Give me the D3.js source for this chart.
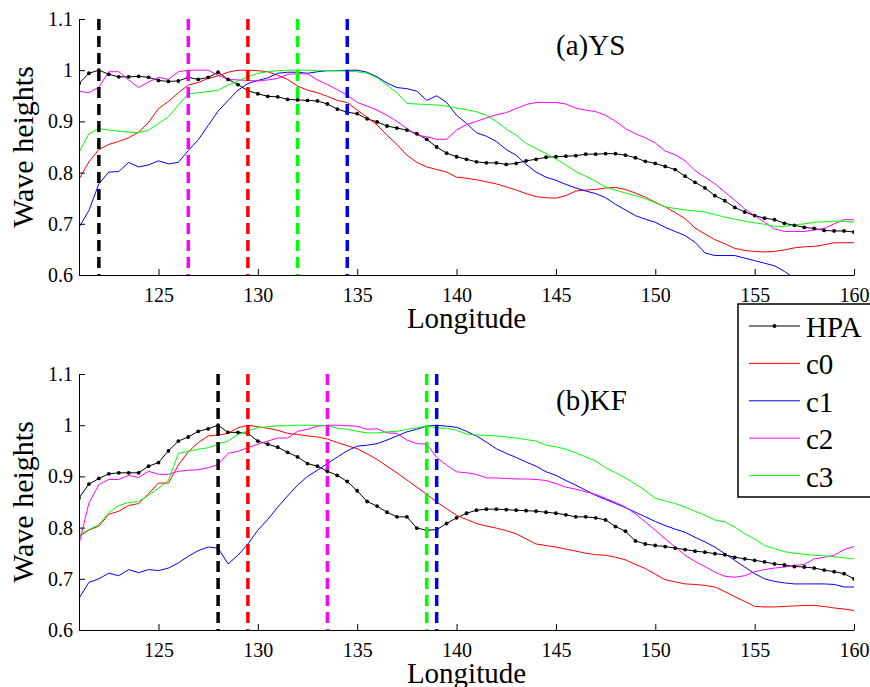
<!DOCTYPE html>
<html>
<head>
<meta charset="utf-8">
<script src="https://cdnjs.cloudflare.com/ajax/libs/d3/7.8.5/d3.min.js"></script>
<style>
  body { margin: 0; background: #fff; }
  svg { display: block; font-family: "Liberation Serif", "Times New Roman", Times, "DejaVu Serif", serif; }
</style>
</head>
<body>
<div id="chart"></div>
<script>
// longitude grid, 0.5 deg from 121 to 160 (79 points)
const lons = d3.range(121, 160.001, 0.5);

// (a) YS
const ysHPA = [
  .974, .994, 1.0, .992, .987, .987, .988, .986, .980, .978,
  .979, .986, .982, .986, .996, .982, .972, .960, .954, .949,
  .948, .943, .942, .941, .940, .934, .924, .918, .915, .905,
  .899, .891, .887, .883, .876, .865, .850, .838, .831, .826,
  .821, .819, .819, .816, .818, .823, .826, .830, .831, .832,
  .833, .836, .836, .837, .837, .834, .829, .822, .818, .812,
  .806, .793, .781, .770, .755, .745, .732, .723, .716, .711,
  .708, .701, .697, .693, .691, .687, .686, .686, .684
];
const ysC0 = [
  .787, .821, .845, .855, .861, .868, .879, .898, .925, .939,
  .956, .971, .976, .984, .989, .996, 1.0, 1.0, .999, .997,
  .990, .982, .969, .961, .956, .949, .941, .937, .922, .908,
  .893, .873, .855, .834, .820, .811, .806, .801, .791, .789,
  .786, .782, .778, .772, .766, .759, .753, .751, .750, .755,
  .764, .766, .767, .770, .771, .767, .760, .752, .742, .733,
  .722, .710, .692, .680, .669, .661, .652, .648, .646, .645,
  .646, .649, .653, .655, .656, .659, .663, .663, .663
];
const ysC1 = [
  .693, .726, .778, .801, .802, .820, .811, .815, .823, .817,
  .820, .843, .864, .892, .920, .941, .961, .974, .980, .985,
  .994, .996, .996, .994, .997, .999, .999, 1.0, 1.0, .996,
  .987, .975, .966, .964, .959, .941, .950, .937, .912, .896,
  .878, .871, .861, .845, .834, .816, .801, .791, .785, .777,
  .770, .764, .759, .751, .738, .727, .716, .709, .703, .693,
  .685, .677, .664, .643, .638, .638, .638, .633, .628, .623,
  .618, .607, .594, .585, .575, .565, .555, .545, .535
];
const ysC2 = [
  .959, .956, .967, .997, .997, .981, .966, .977, .986, .982,
  .997, 1.0, 1.0, 1.0, .990, .982, .981, .980, .979, .981,
  .984, .992, .993, .993, .981, .972, .962, .951, .937, .930,
  .922, .912, .900, .886, .873, .870, .865, .865, .883, .894,
  .900, .907, .913, .917, .925, .933, .937, .937, .937, .934,
  .926, .922, .919, .912, .900, .886, .876, .868, .858, .842,
  .835, .823, .804, .791, .778, .762, .746, .729, .716, .703,
  .690, .685, .685, .685, .688, .691, .700, .708, .708
];
const ysC3 = [
  .840, .876, .886, .883, .881, .879, .878, .883, .896, .909,
  .932, .954, .956, .958, .961, .971, .979, .987, .994, .997,
  .999, 1.0, 1.0, 1.0, .999, .999, .999, .998, .997, .994,
  .985, .971, .956, .935, .934, .933, .932, .930, .926, .923,
  .919, .912, .900, .885, .873, .857, .847, .837, .827, .815,
  .802, .793, .783, .772, .766, .760, .755, .749, .741, .733,
  .730, .727, .725, .723, .718, .713, .709, .705, .702, .699,
  .695, .695, .698, .700, .703, .704, .705, .705, .703
];

// (b) KF
const kfHPA = [
  .858, .885, .896, .905, .907, .907, .907, .920, .927, .950,
  .969, .977, .988, .993, 1.0, .986, .986, .984, .969, .963,
  .957, .947, .938, .925, .920, .910, .902, .890, .872, .851,
  .842, .830, .821, .821, .799, .795, .796, .808, .819, .828,
  .834, .836, .836, .835, .834, .833, .832, .830, .828, .825,
  .821, .821, .819, .815, .802, .793, .774, .768, .765, .763,
  .760, .757, .754, .752, .749, .747, .742, .739, .736, .733,
  .729, .727, .724, .723, .721, .717, .714, .710, .700
];
const kfC0 = [
  .783, .795, .803, .826, .832, .843, .847, .866, .887, .887,
  .922, .948, .966, .979, .981, .984, .995, 1.0, .997, .994,
  .990, .984, .982, .979, .977, .973, .966, .960, .954, .944,
  .933, .920, .907, .893, .879, .865, .850, .837, .824, .816,
  .808, .803, .799, .794, .788, .778, .768, .765, .762, .758,
  .754, .750, .747, .746, .742, .737, .728, .720, .709, .698,
  .694, .690, .689, .687, .684, .675, .665, .656, .646, .645,
  .645, .646, .647, .648, .648, .646, .643, .641, .638
];
const kfC1 = [
  .662, .693, .700, .711, .706, .718, .712, .718, .716, .721,
  .731, .744, .755, .762, .760, .729, .746, .768, .795, .816,
  .840, .862, .883, .900, .912, .925, .938, .950, .959, .961,
  .964, .971, .979, .987, .992, .998, 1.0, .998, .996, .988,
  .979, .967, .954, .945, .937, .928, .920, .909, .902, .892,
  .883, .873, .863, .855, .847, .839, .830, .821, .812, .804,
  .797, .791, .781, .772, .762, .749, .736, .723, .710, .700,
  .695, .692, .690, .690, .690, .690, .689, .684, .684
];
const kfC2 = [
  .768, .848, .884, .894, .894, .902, .898, .910, .904, .904,
  .910, .912, .913, .917, .923, .945, .949, .956, .963, .969,
  .975, .975, .988, .992, .998, 1.0, 1.0, .999, .998, .992,
  .993, .985, .984, .971, .964, .963, .937, .922, .909, .907,
  .904, .897, .897, .896, .895, .895, .894, .892, .886, .879,
  .875, .870, .865, .857, .849, .840, .827, .811, .795, .778,
  .762, .746, .734, .724, .713, .705, .703, .706, .714, .718,
  .721, .723, .726, .728, .739, .742, .746, .757, .763
];
const kfC3 = [
  .786, .796, .806, .829, .843, .849, .851, .863, .877, .892,
  .945, .949, .953, .956, .963, .969, .982, .989, .995, .997,
  .999, .999, 1.0, 1.0, .999, .999, .994, .992, .988, .985,
  .985, .987, .988, .992, .995, .998, .995, .994, .990, .983,
  .981, .980, .979, .977, .975, .972, .969, .961, .958, .953,
  .946, .938, .930, .917, .907, .897, .885, .872, .857, .852,
  .847, .840, .832, .824, .815, .811, .801, .788, .778, .765,
  .759, .753, .750, .748, .746, .745, .743, .741, .739
];

const seriesNames = ["HPA", "c0", "c1", "c2", "c3"];
const seriesColors = ["#000000", "#ff0000", "#0000ff", "#ff00ff", "#00ff00"];
// longitude of the maximum of each series (dashed markers)
const ysPeaks = [122, 129.5, 134.5, 126.5, 132];
const kfPeaks = [128, 129.5, 139, 133.5, 138.5];

const xTicks = [125, 130, 135, 140, 145, 150, 155, 160];
const yTicks = [0.6, 0.7, 0.8, 0.9, 1, 1.1];

const width = 870, height = 687;
const serif = '"Liberation Serif", "Times New Roman", Times, "DejaVu Serif", serif';

const svg = d3.select("#chart").append("svg")
    .attr("width", width)
    .attr("height", height)
    .attr("font-family", serif);

const x = d3.scaleLinear().domain([121, 160]).range([79, 854]);

const panels = [
  {id: "ys", top: 19, label: "(a)YS", series: [ysHPA, ysC0, ysC1, ysC2, ysC3], peaks: ysPeaks},
  {id: "kf", top: 374, label: "(b)KF", series: [kfHPA, kfC0, kfC1, kfC2, kfC3], peaks: kfPeaks}
];

panels.forEach(function(p) {
  const y = d3.scaleLinear().domain([0.6, 1.1]).range([p.top + 256, p.top]);
  const g = svg.append("g");

  g.append("clipPath").attr("id", "clip-" + p.id)
    .append("rect")
      .attr("x", x.range()[0]).attr("y", p.top)
      .attr("width", x.range()[1] - x.range()[0])
      .attr("height", 256);

  const line = d3.line()
      .x(function(d, i) { return x(lons[i]); })
      .y(function(d) { return y(d); });

  const plot = g.append("g").attr("clip-path", "url(#clip-" + p.id + ")");

  p.series.forEach(function(s, k) {
    plot.append("path")
      .datum(s)
      .attr("d", line)
      .attr("fill", "none")
      .attr("stroke", seriesColors[k])
      .attr("stroke-width", 1);
  });

  // dots on HPA
  plot.selectAll("circle.hpa")
    .data(p.series[0])
    .join("circle")
      .attr("class", "hpa")
      .attr("cx", function(d, i) { return x(lons[i]); })
      .attr("cy", function(d) { return y(d); })
      .attr("r", 1.9)
      .attr("fill", "#000");

  // dashed peak lines
  plot.selectAll("line.peak")
    .data(p.peaks)
    .join("line")
      .attr("class", "peak")
      .attr("x1", function(d) { return x(d); })
      .attr("x2", function(d) { return x(d); })
      .attr("y1", y(1.1))
      .attr("y2", y(0.6))
      .attr("stroke", function(d, i) { return seriesColors[i]; })
      .attr("stroke-width", 3.5)
      .attr("stroke-dasharray", "11,6");

  // axes
  const yAxis = g.append("g")
      .attr("transform", "translate(" + x.range()[0] + ",0)")
      .call(d3.axisLeft(y).tickValues(yTicks).tickFormat(function(d) { return String(d); })
        .tickSizeInner(-6).tickSizeOuter(0).tickPadding(6));

  const xAxis = g.append("g")
      .attr("transform", "translate(0," + y(0.6) + ")")
      .call(d3.axisBottom(x).tickValues(xTicks).tickFormat(d3.format("d"))
        .tickSizeInner(-6).tickSizeOuter(0).tickPadding(13));

  [yAxis, xAxis].forEach(function(a) {
    a.attr("font-family", serif).attr("font-size", 20);
    a.selectAll("text").attr("fill", "#000");
    a.selectAll("line, path").attr("stroke", "#000");
  });

  g.append("text")
    .attr("x", (x.range()[0] + x.range()[1]) / 2)
    .attr("y", p.top + 309)
    .attr("text-anchor", "middle")
    .attr("font-size", 29)
    .text("Longitude");

  g.append("text")
    .attr("transform", "translate(33," + (p.top + 128) + ") rotate(-90)")
    .attr("text-anchor", "middle")
    .attr("font-size", 30)
    .text("Wave heights");

  g.append("text")
    .attr("x", 556)
    .attr("y", p.top + 36)
    .attr("font-size", 29)
    .text(p.label);
});

// legend
const legend = svg.append("g");
legend.append("rect")
  .attr("x", 738).attr("y", 304)
  .attr("width", 140).attr("height", 193)
  .attr("fill", "#fff")
  .attr("stroke", "#000")
  .attr("stroke-width", 1.5);

const entries = legend.selectAll("g.entry")
  .data(seriesNames)
  .join("g")
    .attr("class", "entry")
    .attr("transform", function(d, i) { return "translate(0," + (337 + i * 37.4) + ")"; });

entries.append("line")
  .attr("x1", 749).attr("x2", 800)
  .attr("y1", -11).attr("y2", -11)
  .attr("stroke", function(d, i) { return seriesColors[i]; })
  .attr("stroke-width", 1);

entries.filter(function(d, i) { return i === 0; })
  .append("circle")
    .attr("cx", 774.5).attr("cy", -11).attr("r", 1.9).attr("fill", "#000");

entries.append("text")
  .attr("x", 806)
  .attr("y", 0)
  .attr("font-size", 29)
  .text(function(d) { return d; });
</script>
</body>
</html>
